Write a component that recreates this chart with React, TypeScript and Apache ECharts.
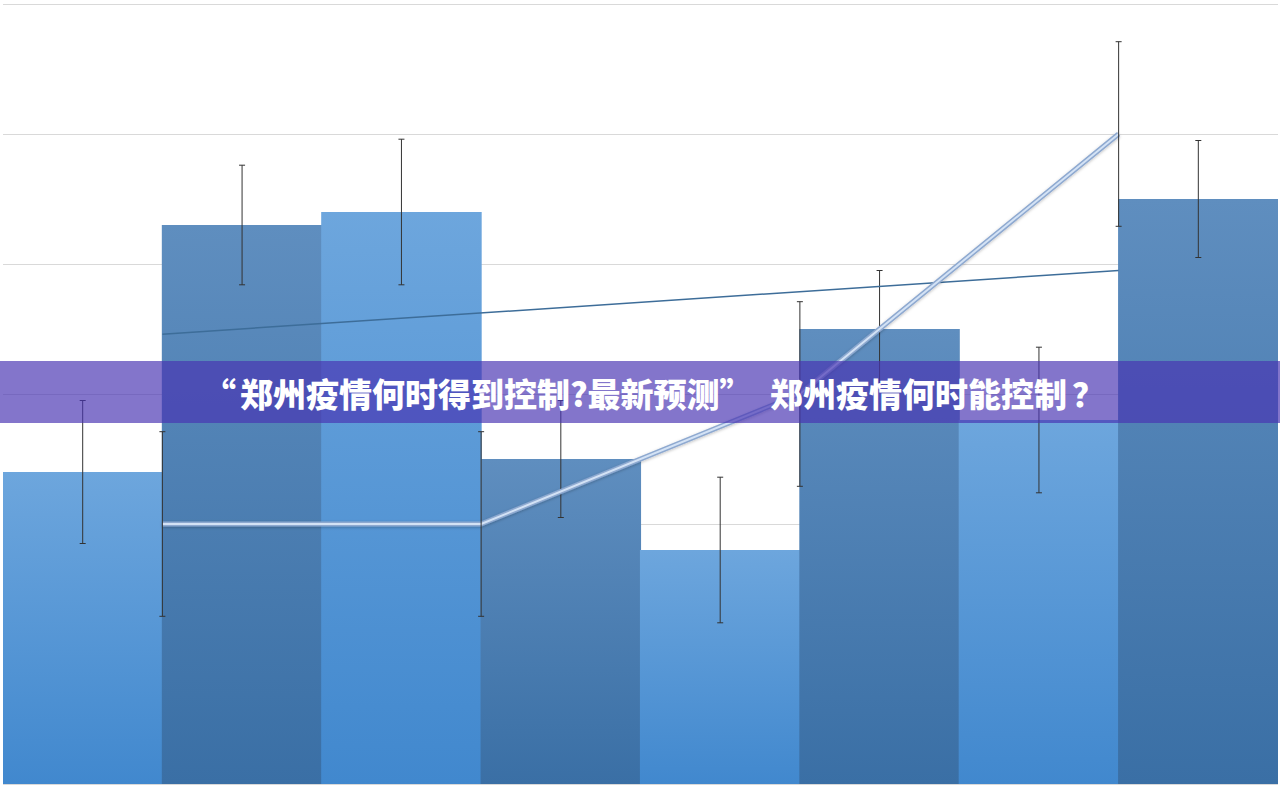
import * as echarts from "echarts";
import { useEffect, useRef } from "react";

// valeurs
const categories = ["1", "2", "3", "4", "5", "6", "7", "8"];
const barValues = [2.4, 4.3, 4.4, 2.5, 1.8, 3.5, 2.8, 4.5];
const barErrors = [0.55, 0.46, 0.56, 0.45, 0.56, 0.45, 0.56, 0.45];

const linePos = [1, 3, 5, 7];
const lineValues = [2, 2, 3, 5];
const lineErrors = [0.71, 0.71, 0.71, 0.71];

const trendPos = [1, 7];
const trendValues = [3.46, 3.95];

const yTicks = [0, 1, 2, 3, 4, 5, 6];

// titre : “郑州疫情何时得到控制?最新预测” 郑州疫情何时能控制？
const bannerParts = ["“", "郑州疫情何时得到控制?最新预测", "”", " 郑州疫情何时能控制", "？"];

const lightBar = new echarts.graphic.LinearGradient(0, 0, 0, 1, [
  { offset: 0, color: "#6da6dd" },
  { offset: 1, color: "#4188ce" },
]);
const darkBar = new echarts.graphic.LinearGradient(0, 0, 0, 1, [
  { offset: 0, color: "#5f8ebf" },
  { offset: 1, color: "#3a6fa5" },
]);

const errorBarItem = (params: any, api: any) => {
  const x = api.value(0);
  const top = api.coord([x, api.value(2)]);
  const bottom = api.coord([x, api.value(1)]);
  const cap = 3;
  const style = { stroke: "#333333", lineWidth: 1 };
  return {
    type: "group",
    children: [
      { type: "line", shape: { x1: top[0], y1: top[1], x2: bottom[0], y2: bottom[1] }, style },
      { type: "line", shape: { x1: top[0] - cap, y1: top[1], x2: top[0] + cap, y2: top[1] }, style },
      { type: "line", shape: { x1: bottom[0] - cap, y1: bottom[1], x2: bottom[0] + cap, y2: bottom[1] }, style },
    ],
  };
};

const titleFont = {
  fill: "#ffffff",
  fontSize: 33,
  fontWeight: 900,
  fontFamily: '"Noto Sans CJK SC"',
};

const ChartZhengzhou = () => {
  const chartRef = useRef<HTMLDivElement | null>(null);

  useEffect(() => {
    const chart = echarts.init(chartRef.current!, null, { renderer: "svg" });

    const lineData = linePos.map((x, i) => [x, lineValues[i]]);

    const option = {
      animation: false,
      grid: { left: 3, right: 2, top: 4, bottom: 1 },
      xAxis: [
        {
          type: "category",
          data: categories,
          boundaryGap: true,
          show: false,
        },
        {
          type: "value",
          min: 0,
          max: 8,
          show: false,
        },
      ],
      yAxis: {
        type: "value",
        min: yTicks[0],
        max: yTicks[yTicks.length - 1],
        interval: 1,
        axisLabel: { show: false },
        axisLine: { show: false },
        axisTick: { show: false },
        splitLine: { lineStyle: { color: "#d9d9d9", width: 1 } },
      },
      series: [
        {
          type: "bar",
          barWidth: 160.5,
          barGap: "-100%",
          data: barValues.map((v, i) => ({
            value: v,
            itemStyle: { color: i % 2 === 0 ? lightBar : darkBar },
          })),
        },
        {
          type: "custom",
          xAxisIndex: 1,
          renderItem: errorBarItem,
          data: barValues.map((v, i) => [i + 0.5, v - barErrors[i], v + barErrors[i]]),
          z: 3,
        },
        {
          type: "line",
          xAxisIndex: 1,
          data: trendPos.map((x, i) => [x, trendValues[i]]),
          symbol: "none",
          lineStyle: { color: "#3d6d99", width: 1.5 },
          z: 4,
        },
        {
          type: "line",
          xAxisIndex: 1,
          data: lineData,
          symbol: "none",
          lineStyle: {
            color: "#8ea9d0",
            width: 5,
            shadowColor: "rgba(0,0,0,0.25)",
            shadowBlur: 3,
            shadowOffsetY: 1,
          },
          z: 4,
        },
        {
          type: "line",
          xAxisIndex: 1,
          data: lineData,
          symbol: "none",
          lineStyle: { color: "#d3e2f5", width: 2 },
          z: 5,
        },
        {
          type: "custom",
          xAxisIndex: 1,
          renderItem: errorBarItem,
          data: linePos.map((x, i) => [x, lineValues[i] - lineErrors[i], lineValues[i] + lineErrors[i]]),
          z: 6,
        },
      ],
      graphic: [
        {
          type: "rect",
          left: 0,
          top: 361,
          shape: { width: 1280, height: 62 },
          style: { fill: "rgba(72,52,178,0.68)" },
          z: 100,
        },
        {
          type: "text",
          x: 654,
          y: 393,
          style: {
            text:
              "{qo|" + bannerParts[0] + "}{t|" + bannerParts[1] + "}{qc|" + bannerParts[2] + "}{t|" +
              bannerParts[3] + "}{qm|" + bannerParts[4] + "}",
            ...titleFont,
            align: "center",
            verticalAlign: "middle",
            rich: {
              qo: { ...titleFont, padding: [0, 4, 0, 0] },
              qc: { ...titleFont, padding: [0, 10, 0, 0] },
              qm: { ...titleFont, padding: [0, 0, 0, 5] },
              t: { ...titleFont },
            },
          },
          z: 101,
        },
      ],
    };

    chart.setOption(option);

    return () => {
      chart.dispose();
    };
  }, []);

  return (
    <div
      ref={chartRef}
      style={{ position: "fixed", left: 0, top: 0, width: "1280px", height: "785px", background: "#ffffff" }}
    />
  );
};

export default function App() {
  return <ChartZhengzhou />;
}
